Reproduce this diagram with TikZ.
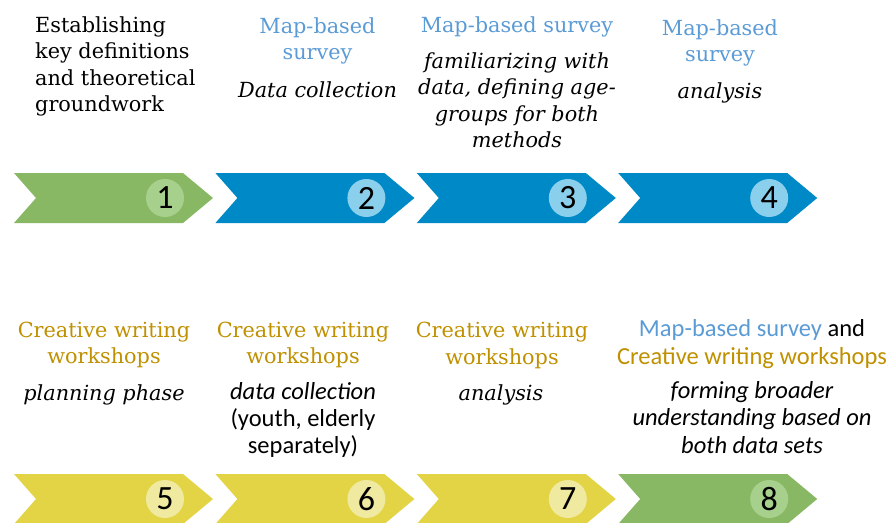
\documentclass[tikz,border=0pt]{standalone}
\usepackage{fontspec}
\setmainfont{DejaVu Serif}
\newfontfamily\sansfont{Carlito}
\usepackage{xcolor}
\usepackage{tikz}
\usetikzlibrary{positioning}
\definecolor{stepgreen}{RGB}{136,184,100}
\definecolor{dotgreen}{RGB}{168,208,141}
\definecolor{stepblue}{RGB}{0,137,199}
\definecolor{dotblue}{RGB}{138,207,236}
\definecolor{stepyellow}{RGB}{227,212,70}
\definecolor{dotyellow}{RGB}{240,233,160}
\definecolor{mapblue}{RGB}{91,155,213}
\definecolor{cwgold}{RGB}{191,144,0}

% text nodes sit on the baseline of their last line
\tikzset{
  txt/.style={align=center, anchor=base, inner sep=0pt,
    font=\fontsize{20.8}{26.5}\selectfont},
  maphead/.style={txt, text=mapblue},
  writehead/.style={txt, text=cwgold},
  task/.style={txt, font=\fontsize{20.8}{26.5}\selectfont\itshape},
  sanstask/.style={txt, font=\sansfont\fontsize{24.5}{27}\selectfont},
  dot/.style={circle, minimum size=38pt, inner sep=0pt,
    font=\sansfont\fontsize{34}{34}\selectfont}
}

\begin{document}
\begin{tikzpicture}[x=1pt, y=-1pt]
    \useasboundingbox (0,0) rectangle (893,522);
    % chevrons with their step numbers, two rows of four
    \foreach \n/\x/\y/\fc/\dc in {1/14/173/stepgreen/dotgreen,
        2/215.4/173/stepblue/dotblue, 3/416.8/173/stepblue/dotblue,
        4/618.2/173/stepblue/dotblue, 5/14/474/stepyellow/dotyellow,
        6/215.4/474/stepyellow/dotyellow, 7/416.8/474/stepyellow/dotyellow,
        8/618.2/474/stepgreen/dotgreen} {
      \fill[\fc] (\x,\y) -- ++(169,0) -- ++(30,25) -- ++(-30,25)
        -- ++(-169,0) -- ++(22,-25) -- cycle;
      \node[dot, fill=\dc] (n\n) at (\x+151,\y+25) {\n};
    }
    % top row
    \node[txt, align=left, anchor=base west] (t1) at (35,111.5)
      {Establishing\\key definitions\\and theoretical\\groundwork};
    \node[maphead] (h2) at (317.5,59.5) {Map-based\\survey};
    \node[task] (b2) at (317.5,97) {Data collection};
    \node[maphead] (h3) at (517,32) {Map-based survey};
    \node[task] (b3) at (517,147.5)
      {familiarizing with\\data, defining age-\\groups for both\\methods};
    \node[maphead] (h4) at (720,61.5) {Map-based\\survey};
    \node[task] (b4) at (720,98) {analysis};
    % bottom row
    \node[writehead] (h5) at (104,363.5) {Creative writing\\workshops};
    \node[task] (b5) at (104,400) {planning phase};
    \node[writehead] (h6) at (303,363.5) {Creative writing\\workshops};
    \node[sanstask] (b6) at (303,453)
      {\textit{data collection}\\(youth, elderly\\separately)};
    \node[writehead] (h7) at (502,364) {Creative writing\\workshops};
    \node[task] (b7) at (501,400) {analysis};
    \node[sanstask, font=\sansfont\fontsize{24.5}{28.5}\selectfont] (h8) at (752,364.5)
      {\textcolor{mapblue}{Map-based survey} and\\\textcolor{cwgold}{Creative writing workshops}};
    \node[sanstask, font=\sansfont\fontsize{24.5}{27.5}\selectfont\itshape] (b8) at (752,453)
      {forming broader\\understanding based on\\both data sets};
  \end{tikzpicture}
\end{document}
